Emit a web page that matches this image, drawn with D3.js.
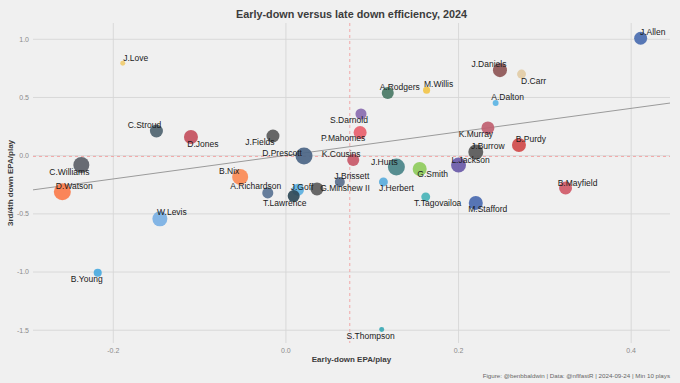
<!DOCTYPE html>
<html>
<head>
<meta charset="utf-8">
<script src="https://cdn.jsdelivr.net/npm/d3@7"></script>
<style>
  body { margin: 0; background: #f0f0f0; }
  svg { display: block; font-family: "Liberation Sans", Arial, sans-serif; }
</style>
</head>
<body>
<div id="chart"></div>
<script>
// QB names, early-down EPA (x), late-down EPA (y), plays (size), team colour
const players = ["J.Love", "C.Stroud", "D.Jones", "J.Fields", "D.Prescott", "C.Williams", "D.Watson",
  "B.Nix", "A.Richardson", "J.Goff", "T.Lawrence", "G.Minshew II", "J.Brissett", "K.Cousins",
  "P.Mahomes", "S.Darnold", "A.Rodgers", "M.Willis", "J.Daniels", "D.Carr", "A.Dalton", "J.Allen",
  "K.Murray", "B.Purdy", "J.Burrow", "L.Jackson", "J.Hurts", "G.Smith", "J.Herbert", "B.Mayfield",
  "T.Tagovailoa", "M.Stafford", "S.Thompson", "W.Levis", "B.Young"];
const earlyEpa = [-0.189, -0.150, -0.110, -0.015, 0.021, -0.237, -0.259,
  -0.053, -0.021, 0.014, 0.009, 0.036, 0.0625, 0.078,
  0.086, 0.087, 0.118, 0.163, 0.248, 0.273, 0.243, 0.411,
  0.234, 0.270, 0.220, 0.200, 0.128, 0.155, 0.113, 0.324,
  0.162, 0.220, 0.111, -0.146, -0.218];
const lateEpa = [0.795, 0.212, 0.160, 0.169, -0.003, -0.080, -0.311,
  -0.183, -0.320, -0.294, -0.346, -0.286, -0.226, -0.037,
  0.199, 0.358, 0.538, 0.563, 0.735, 0.701, 0.452, 1.009,
  0.238, 0.092, 0.032, -0.080, -0.097, -0.114, -0.226, -0.277,
  -0.354, -0.406, -1.495, -0.543, -1.006];
const plays = [10, 68, 79, 68, 116, 103, 116,
  103, 49, 58, 58, 68, 40, 58,
  68, 49, 58, 20, 79, 32, 14, 68,
  68, 79, 90, 90, 116, 79, 32, 68,
  32, 79, 10, 90, 26];
const teamColors = ["#f0cc70", "#4f6470", "#c4505e", "#5a5a5a", "#4b6585", "#5c6068", "#fb7c4c",
  "#fb8a55", "#5a7394", "#5cb0e0", "#2f4a58", "#5c5c5c", "#5a6e8c", "#c85868",
  "#e8606c", "#8a6cb0", "#4a7a66", "#f2c44a", "#8e5656", "#e2cca6", "#5cb4e4", "#4a6cb0",
  "#c06070", "#d04a4a", "#585858", "#6a5aa8", "#4a8488", "#8fcc5c", "#5aacdc", "#d05a68",
  "#4ab4b8", "#4a6ab0", "#3aa8b4", "#7ab0e4", "#4aaae0"];

// repelled label offsets, in px from the point
const labelNudge = [[13, -5], [-12, -6], [12, 7], [-13, 6], [-22, -3], [-12, 7], [12, -6],
  [-11, -6], [-12, -7], [4, -3], [-9, 7], [28, -1], [12, -6], [-12, -6],
  [-17, 6], [-12, 6], [12, -6], [12, -6], [-11, -6], [12, 7], [12, -6], [12, -6],
  [-12, 6], [12, -6], [12, -6], [12, -5], [-12, -5], [13, 5], [13, 6], [12, -5],
  [12, 6], [12, 6], [-11, 6], [12, -7], [-11, 6]];

const xTicks = [-0.2, 0.0, 0.2, 0.4];
const yTicks = [-1.5, -1.0, -0.5, 0.0, 0.5, 1.0];
const meanEarly = 0.074;
const meanLate = -0.007;
const fitX = [-0.293, 0.445];
const fitY = [-0.294, 0.452];

const width = 680, height = 383;
const margin = {top: 23, right: 10, bottom: 40, left: 33};

const data = players.map((p, i) => ({
  name: p, x: earlyEpa[i], y: lateEpa[i], n: plays[i], color: teamColors[i], nudge: labelNudge[i]
}));

const svg = d3.select("#chart").append("svg")
  .attr("width", width)
  .attr("height", height);

svg.append("rect").attr("width", width).attr("height", height).attr("fill", "#f0f0f0");

const x = d3.scaleLinear().domain([-0.293, 0.445]).range([margin.left, width - margin.right]);
const y = d3.scaleLinear().domain([-1.61, 1.14]).range([height - margin.bottom, margin.top]);
const r = d3.scaleSqrt().domain([0, 130]).range([0, 9]);

// gridlines
svg.append("g").selectAll("line").data(xTicks).join("line")
  .attr("x1", d => x(d)).attr("x2", d => x(d))
  .attr("y1", margin.top).attr("y2", height - margin.bottom)
  .attr("stroke", "#d6d6d6").attr("stroke-width", 0.9);
svg.append("g").selectAll("line").data(yTicks).join("line")
  .attr("x1", margin.left).attr("x2", width - margin.right)
  .attr("y1", d => y(d)).attr("y2", d => y(d))
  .attr("stroke", "#d6d6d6").attr("stroke-width", 0.9);

// tick labels
svg.append("g").selectAll("text").data(xTicks).join("text")
  .attr("x", d => x(d)).attr("y", height - margin.bottom + 10)
  .attr("text-anchor", "middle")
  .attr("font-size", 7).attr("fill", "#8a8a8a")
  .text(d => d3.format(".1f")(d).replace("−", "-"));
svg.append("g").selectAll("text").data(yTicks).join("text")
  .attr("x", margin.left - 4).attr("y", d => y(d))
  .attr("dy", "0.35em")
  .attr("text-anchor", "end")
  .attr("font-size", 7).attr("fill", "#8a8a8a")
  .text(d => d3.format(".1f")(d).replace("−", "-"));

// mean reference lines
svg.append("line")
  .attr("x1", x(meanEarly)).attr("x2", x(meanEarly))
  .attr("y1", margin.top).attr("y2", height - margin.bottom)
  .attr("stroke", "#f2a0a0").attr("stroke-width", 0.9).attr("stroke-dasharray", "3,3");
svg.append("line")
  .attr("x1", margin.left).attr("x2", width - margin.right)
  .attr("y1", y(meanLate)).attr("y2", y(meanLate))
  .attr("stroke", "#f2a0a0").attr("stroke-width", 0.9).attr("stroke-dasharray", "3,3");

// fit line
svg.append("line")
  .attr("x1", x(fitX[0])).attr("y1", y(fitY[0]))
  .attr("x2", x(fitX[1])).attr("y2", y(fitY[1]))
  .attr("stroke", "#9a9a9a").attr("stroke-width", 1);

// points
svg.append("g").selectAll("circle").data(data).join("circle")
  .attr("cx", d => x(d.x)).attr("cy", d => y(d.y))
  .attr("r", d => r(d.n))
  .attr("fill", d => d.color)
  .attr("fill-opacity", 0.92);

// labels
svg.append("g").selectAll("text").data(data).join("text")
  .attr("x", d => x(d.x) + d.nudge[0])
  .attr("y", d => y(d.y) + d.nudge[1])
  .attr("dy", "0.35em")
  .attr("text-anchor", "middle")
  .attr("font-size", 8.5).attr("fill", "#1a1a1a")
  .text(d => d.name);

// titles
svg.append("text")
  .attr("x", (margin.left + width - margin.right) / 2).attr("y", 18)
  .attr("text-anchor", "middle")
  .attr("font-size", 10.8).attr("font-weight", "bold").attr("fill", "#3c3c3c")
  .text("Early-down versus late down efficiency, 2024");

svg.append("text")
  .attr("x", (margin.left + width - margin.right) / 2).attr("y", 362)
  .attr("text-anchor", "middle")
  .attr("font-size", 8).attr("font-weight", "bold").attr("fill", "#3c3c3c")
  .text("Early-down EPA/play");

svg.append("text")
  .attr("transform", `translate(13,${(margin.top + height - margin.bottom) / 2}) rotate(-90)`)
  .attr("text-anchor", "middle")
  .attr("font-size", 8).attr("font-weight", "bold").attr("fill", "#3c3c3c")
  .text("3rd/4th down EPA/play");

svg.append("text")
  .attr("x", width - margin.right).attr("y", 378)
  .attr("text-anchor", "end")
  .attr("font-size", 6.2).attr("fill", "#666")
  .text("Figure: @benbbaldwin | Data: @nflfastR | 2024-09-24 | Min 10 plays");
</script>
</body>
</html>
